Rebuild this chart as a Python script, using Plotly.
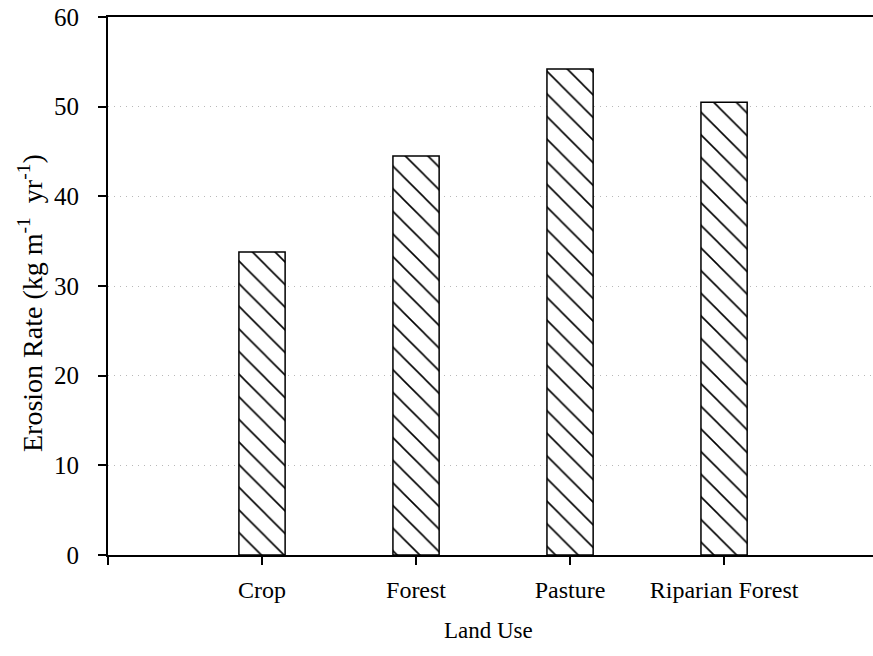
import plotly.graph_objects as go

# Land-use categories and mean erosion rates
categories = ["Crop", "Forest", "Pasture", "Riparian Forest"]
erosion_rate = [33.8, 44.5, 54.2, 50.5]

# Category positions on a numeric axis (an extra blank tick sits at -1)
positions = list(range(len(categories)))
tick_positions = [-1] + positions
tick_labels = [""] + categories

y_ticks = [0, 10, 20, 30, 40, 50, 60]

FONT = "Liberation Serif, Times New Roman, serif"

fig = go.Figure(
    go.Bar(
        x=positions,
        y=erosion_rate,
        width=0.3,
        marker=dict(
            color="white",
            line=dict(color="black", width=1.5),
            pattern=dict(shape="\\", fgcolor="black", bgcolor="white",
                         fgopacity=1, size=16, solidity=0.1),
        ),
        hoverinfo="skip",
    )
)

fig.update_layout(
    width=873,
    height=656,
    margin=dict(l=108, r=0, t=17, b=101),
    paper_bgcolor="white",
    plot_bgcolor="white",
    showlegend=False,
    font=dict(family=FONT, color="black", size=24),
    xaxis=dict(
        range=[-1, 3.967],
        tickmode="array",
        tickvals=tick_positions,
        ticktext=tick_labels,
        ticks="outside",
        ticklen=8,
        tickwidth=1.5,
        tickcolor="black",
        ticklabelstandoff=4,
        showline=True,
        linecolor="black",
        linewidth=2,
        mirror=True,
        showgrid=False,
        zeroline=False,
        tickfont=dict(family=FONT, size=24, color="black"),
    ),
    yaxis=dict(
        range=[0, 60],
        tickmode="array",
        tickvals=y_ticks,
        ticks="outside",
        ticklen=8,
        tickwidth=2,
        tickcolor="black",
        ticklabelstandoff=14,
        showline=True,
        linecolor="black",
        linewidth=2,
        showgrid=True,
        gridcolor="#b8b8b8",
        griddash="1px,5px",
        gridwidth=1,
        zeroline=False,
        tickfont=dict(family=FONT, size=25, color="black"),
    ),
    annotations=[
        dict(
            text="Erosion Rate (kg m<sup>-1</sup>  yr<sup>-1</sup>)",
            xref="paper", yref="paper",
            x=-108 / 765 + 30 / 765, y=(555 - 303) / 538,
            xanchor="center", yanchor="middle",
            textangle=-90,
            showarrow=False,
            font=dict(family=FONT, size=28, color="black"),
        ),
        dict(
            text="Land Use",
            xref="paper", yref="paper",
            x=(488 - 108) / 765, y=-(630 - 555) / 538,
            xanchor="center", yanchor="middle",
            showarrow=False,
            font=dict(family=FONT, size=23, color="black"),
        ),
    ],
)

fig.write_html("out.html")
